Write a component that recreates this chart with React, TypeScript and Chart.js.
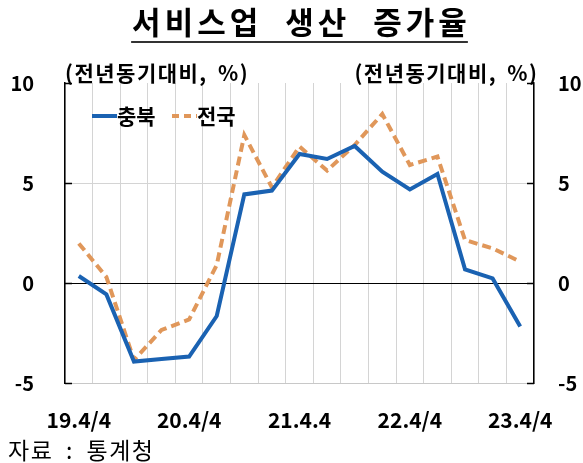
import React, { useEffect, useRef } from "react";
import { Chart, registerables } from "chart.js";

Chart.register(...registerables);

const categories = [
  "19.4/4", "20.1/4", "20.2/4", "20.3/4", "20.4/4",
  "21.1/4", "21.2/4", "21.3/4", "21.4.4",
  "22.1/4", "22.2/4", "22.3/4", "22.4/4",
  "23.1/4", "23.2/4", "23.3/4", "23.4/4",
];
const chungbuk = [0.35, -0.57, -3.93, -3.8, -3.68, -1.65, 4.43, 4.62, 6.45, 6.2, 6.85, 5.57, 4.68, 5.45, 0.68, 0.23, -2.18];
const national = [1.98, 0.3, -3.85, -2.35, -1.82, 0.9, 7.4, 4.78, 6.82, 5.62, 6.9, 8.45, 5.9, 6.32, 2.15, 1.73, 1.07];
const seriesNames = ["충북", "전국"];
const yTicks = [-5, 0, 5, 10];
const titleText = "서비스업 생산 증가율";
const unitText = "(전년동기대비, %)";
const sourceText = "자료 : 통계청";

const FONT = '"Noto Sans CJK KR", "Noto Sans", sans-serif';
const BLUE = "#1a62b2";
const ORANGE = "#e0975a";

const decorPlugin = {
  id: "decor",
  afterDraw(chart: any) {
    const ctx = chart.ctx as CanvasRenderingContext2D;
    const area = chart.chartArea;
    const y = chart.scales.y;
    ctx.save();
    // inside tick marks
    ctx.strokeStyle = "#000";
    ctx.lineWidth = 1.5;
    yTicks.forEach((v) => {
      const py = Math.round(y.getPixelForValue(v)) + 0.5;
      ctx.beginPath();
      ctx.moveTo(area.left, py);
      ctx.lineTo(area.left + 7, py);
      ctx.moveTo(area.right - 7, py);
      ctx.lineTo(area.right, py);
      ctx.stroke();
    });
    // title
    const cx = (area.left + area.right) / 2;
    ctx.fillStyle = "#000";
    ctx.font = `bold 31px ${FONT}`;
    (ctx as any).letterSpacing = "4px";
    (ctx as any).wordSpacing = "12px";
    ctx.textAlign = "left";
    ctx.textBaseline = "middle";
    const tw = ctx.measureText(titleText).width - 4;
    ctx.fillText(titleText, cx - tw / 2, 22);
    (ctx as any).wordSpacing = "0px";
    ctx.strokeStyle = "#333";
    ctx.lineWidth = 2;
    ctx.beginPath();
    ctx.moveTo(cx - tw / 2 - 1, 42);
    ctx.lineTo(cx + tw / 2 + 1, 42);
    ctx.stroke();
    // unit labels
    ctx.font = `bold 21px ${FONT}`;
    (ctx as any).letterSpacing = "1.5px";
    (ctx as any).wordSpacing = "4px";
    ctx.textAlign = "left";
    ctx.fillText(unitText, area.left, 73);
    const uw = ctx.measureText(unitText).width - 1.5;
    ctx.fillText(unitText, area.right + 3 - uw, 73);
    (ctx as any).letterSpacing = "0px";
    (ctx as any).wordSpacing = "0px";
    // legend
    const ly = 116;
    const lx = area.left + 27;
    ctx.lineWidth = 4;
    ctx.strokeStyle = BLUE;
    ctx.beginPath();
    ctx.moveTo(lx, ly);
    ctx.lineTo(lx + 25, ly);
    ctx.stroke();
    ctx.textAlign = "left";
    ctx.font = `bold 21px ${FONT}`;
    ctx.fillStyle = "#000";
    ctx.fillText(seriesNames[0], lx + 25, ly);
    const lx2 = lx + 80;
    ctx.strokeStyle = ORANGE;
    ctx.setLineDash([7, 5]);
    ctx.beginPath();
    ctx.moveTo(lx2, ly);
    ctx.lineTo(lx2 + 25, ly);
    ctx.stroke();
    ctx.setLineDash([]);
    ctx.fillText(seriesNames[1], lx2 + 25, ly);
    // source
    ctx.font = `23px ${FONT}`;
    (ctx as any).letterSpacing = "1.5px";
    (ctx as any).wordSpacing = "6px";
    ctx.fillText(sourceText, 8, 450);
    ctx.restore();
  },
};

export default function App() {
  const ref = useRef<HTMLCanvasElement | null>(null);
  useEffect(() => {
    if (!ref.current) return;
    const chart = new Chart(ref.current, {
      type: "line",
      data: {
        labels: categories,
        datasets: [
          {
            label: seriesNames[0],
            data: chungbuk,
            borderColor: BLUE,
            borderWidth: 4,
            pointRadius: 0,
            tension: 0,
            fill: false,
            yAxisID: "y",
            order: 0,
          },
          {
            label: seriesNames[1],
            data: national,
            borderColor: ORANGE,
            borderWidth: 4,
            borderDash: [9, 5],
            pointRadius: 0,
            tension: 0,
            fill: false,
            yAxisID: "y",
            order: 1,
          },
        ],
      },
      options: {
        responsive: false,
        animation: false,
        layout: { padding: { top: 83, left: 0, right: 0, bottom: 0 } },
        plugins: {
          legend: { display: false },
          title: { display: false },
          tooltip: { enabled: false },
        },
        scales: {
          x: {
            type: "category",
            offset: true,
            grid: { offset: true, color: "#d4d4d4", lineWidth: 1, drawTicks: false },
            border: { display: true, color: "#c8c8c8", width: 1 },
            ticks: {
              autoSkip: false,
              maxRotation: 0,
              padding: 24,
              color: "#000",
              font: { family: FONT, size: 21, weight: "bold" },
              callback: (_v: any, i: number) => (i % 4 === 0 ? categories[i] : ""),
            },
            afterFit: (s: any) => {
              s.height = 80;
            },
          },
          y: {
            position: "left",
            min: -5,
            max: 10,
            afterBuildTicks: (s: any) => {
              s.ticks = yTicks.map((v) => ({ value: v }));
            },
            grid: {
              drawTicks: false,
              color: (c: any) =>
                c.tick && c.tick.value === 0 ? "#000" : c.tick && c.tick.value === 10 ? "rgba(0,0,0,0)" : "#d4d4d4",
              lineWidth: 1,
            },
            border: { display: true, color: "#000", width: 1.5 },
            ticks: {
              padding: 31,
              color: "#000",
              font: { family: FONT, size: 20, weight: "bold" },
            },
            afterFit: (s: any) => {
              s.width = 65;
            },
          },
          y2: {
            position: "right",
            min: -5,
            max: 10,
            afterBuildTicks: (s: any) => {
              s.ticks = yTicks.map((v) => ({ value: v }));
            },
            grid: { drawOnChartArea: false, drawTicks: false },
            border: { display: true, color: "#000", width: 1.5 },
            ticks: {
              padding: 24,
              color: "#000",
              font: { family: FONT, size: 20, weight: "bold" },
            },
            afterFit: (s: any) => {
              s.width = 49;
            },
          },
        },
      },
      plugins: [decorPlugin],
    } as any);
    return () => chart.destroy();
  }, []);
  return (
    <div style={{ position: "fixed", left: 0, top: 0, width: 583, height: 463, background: "#fff" }}>
      <canvas ref={ref} width={583} height={463} style={{ display: "block" }} />
    </div>
  );
}
